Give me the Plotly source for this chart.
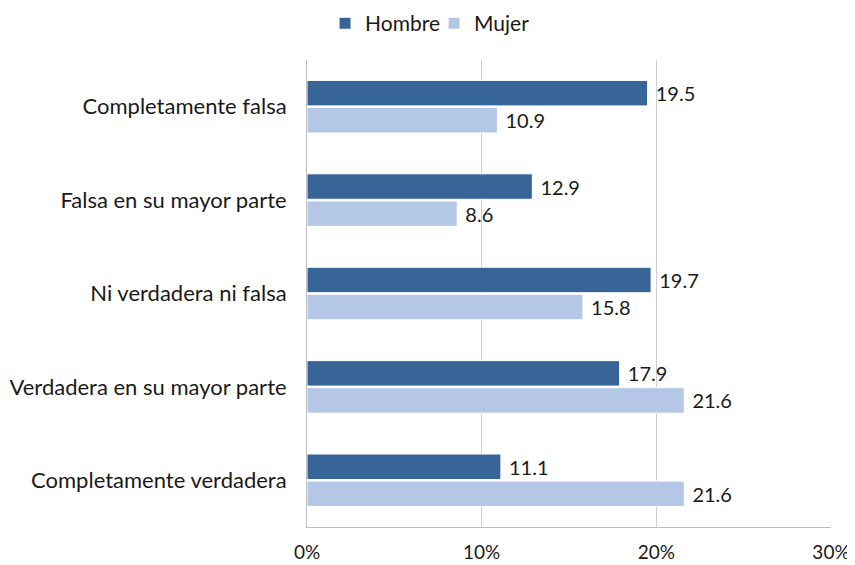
import plotly.graph_objects as go

categorias = ["Completamente falsa", "Falsa en su mayor parte", "Ni verdadera ni falsa",
              "Verdadera en su mayor parte", "Completamente verdadera"]
hombre = [19.5, 12.9, 19.7, 17.9, 11.1]
mujer = [10.9, 8.6, 15.8, 21.6, 21.6]
ticks_x = [0, 10, 20, 30]
ticks_txt = ["0%", "10%", "20%", "30%"]

fig = go.Figure()
fig.add_trace(go.Bar(y=categorias, x=hombre, name="Hombre", orientation="h",
                     marker=dict(color="#386597", line=dict(color="white", width=1)),
                     text=[f" {v:.1f}" for v in hombre], textposition="outside",
                     textfont=dict(size=20, color="#1a1a1a"), cliponaxis=False))
fig.add_trace(go.Bar(y=categorias, x=mujer, name="Mujer", orientation="h",
                     marker=dict(color="#b4c7e7", line=dict(color="white", width=1)),
                     text=[f" {v:.1f}" for v in mujer], textposition="outside",
                     textfont=dict(size=20, color="#1a1a1a"), cliponaxis=False))

# page body has an 8px margin, so the figure is 8px smaller and shifted
fig.update_layout(
    width=847, height=557,
    margin=dict(l=299, r=24, t=52, b=38, autoexpand=False),
    barmode="group", bargap=0.42, bargroupgap=0.06,
    plot_bgcolor="white", paper_bgcolor="white",
    font=dict(family="Lato", size=20, color="#1a1a1a"),
    legend=dict(orientation="h", x=0.503, xanchor="center", xref="container",
                y=0.972, yanchor="middle", yref="container",
                font=dict(size=21), entrywidth=64, tracegroupgap=0),
    showlegend=True,
)
fig.update_xaxes(range=[0, 30], tickvals=ticks_x, ticktext=ticks_txt,
                 showgrid=True, gridcolor="#cfcfcf", gridwidth=1,
                 showline=True, linecolor="#bfbfbf", zeroline=False,
                 ticklabelstandoff=8, tickfont=dict(size=19), automargin=False)
fig.update_yaxes(autorange="reversed", showline=True, linecolor="#bfbfbf",
                 ticklabelstandoff=15, tickfont=dict(size=22), automargin=False)

fig.write_html("out.html")
